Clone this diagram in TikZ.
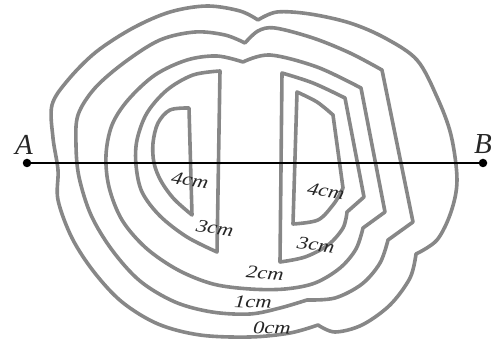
\documentclass[tikz,border=0pt]{standalone}
\usepackage{fontspec}
\setmainfont{Liberation Serif}
\tikzset{
  ring/.style={draw=black!47,line width=3.6pt,line join=round,line cap=round},
  sm/.style={smooth,tension=0.55},
  dot/.style={circle,fill=black,inner sep=0pt,minimum size=8.5pt},
  hand/.style={font=\itshape\fontsize{18}{18}\selectfont,text=black!85,inner sep=0pt,xscale=1.25},
  letter/.style={font=\itshape\fontsize{29}{29}\selectfont,text=black!85,inner sep=0pt}
}
\begin{document}
\begin{tikzpicture}[x=1pt,y=-1pt]
\useasboundingbox (0,0) rectangle (499,344);
% 0 cm
\draw[ring] plot[sm] coordinates {(258,20)(240,11)(207,6)(170,12)(133,28)(96,52)(68,80)(52,105)(53,138)(58,170)(58,200)(72,238)(94,272)(122,302)(158,324)(200,335)(250,337)(290,333)(318,325)}
 -- plot[sm] coordinates {(318,325)(335,332)(362,325)(390,305)(410,278)(416,254)}
 -- plot[sm] coordinates {(416,254)(437,240)(451,212)(457,180)(451,135)(437,97)(417,60)(385,38)(350,23)(310,14)(277,12)(258,20)};
% 1 cm
\draw[ring] plot[sm] coordinates {(245,43)(225,35)(195,32)(160,40)(125,62)(95,88)(78,115)(76,145)(79,177)(91,215)(112,250)(140,281)(175,302)(212,312)(250,314)(280,308)(307,300)}
 -- plot[sm] coordinates {(307,300)(335,298)(362,284)(380,263)(388,240)}
 -- (413,222) -- (382,70)
 -- plot[sm] coordinates {(382,70)(350,53)(313,38)(275,28)(258,31)(245,43)};
% 2 cm
\draw[ring] plot[sm] coordinates {(243,62)(217,56)(187,60)(155,75)(128,100)(112,125)(106,155)(109,187)(122,220)(146,248)(178,270)(213,284)(250,289)(285,289)(315,283)(340,268)(356,249)(363,228)}
 -- (385,212) -- (361,88)
 -- plot[sm] coordinates {(361,88)(317,67)(270,55)(243,62)};
% 3 cm left
\draw[ring] plot[sm] coordinates {(220,71)(193,75)(167,90)(147,113)(137,140)(136,165)(142,192)(160,216)(187,237)(217,252)} -- cycle;
% 4 cm left
\draw[ring] plot[sm] coordinates {(189,108)(170,110)(158,123)(153,143)(154,163)(161,181)(174,199)(192,215)} -- cycle;
% 3 cm right
\draw[ring] plot[sm] coordinates {(282,73)(313,83)(345,98)} -- (364,197) -- (347,212)
 -- plot[sm] coordinates {(347,212)(343,228)(328,245)(305,257)(280,262)} -- cycle;
% 4 cm right
\draw[ring] plot[sm] coordinates {(297,92)(317,102)(333,115)} -- (343,188) -- (340,194)
 -- plot[sm] coordinates {(340,194)(333,205)(318,220)(293,224)} -- cycle;
% line
\node[dot] (a) at (27,163) {};
\node[dot] (b) at (483,163) {};
\draw[black,line width=1.6pt] (a) -- (b);
\node[letter] at (24,145) {A};
\node[letter] at (483,144) {B};
\node[hand,rotate=-10] at (190,180) {4cm};
\node[hand,rotate=-10] at (215,228) {3cm};
\node[hand,rotate=-10] at (326,191) {4cm};
\node[hand,rotate=-8] at (316,245) {3cm};
\node[hand,rotate=-5] at (265,273) {2cm};
\node[hand,rotate=-3] at (253,302) {1cm};
\node[hand,rotate=-3] at (272,328) {0cm};
\end{tikzpicture}
\end{document}
